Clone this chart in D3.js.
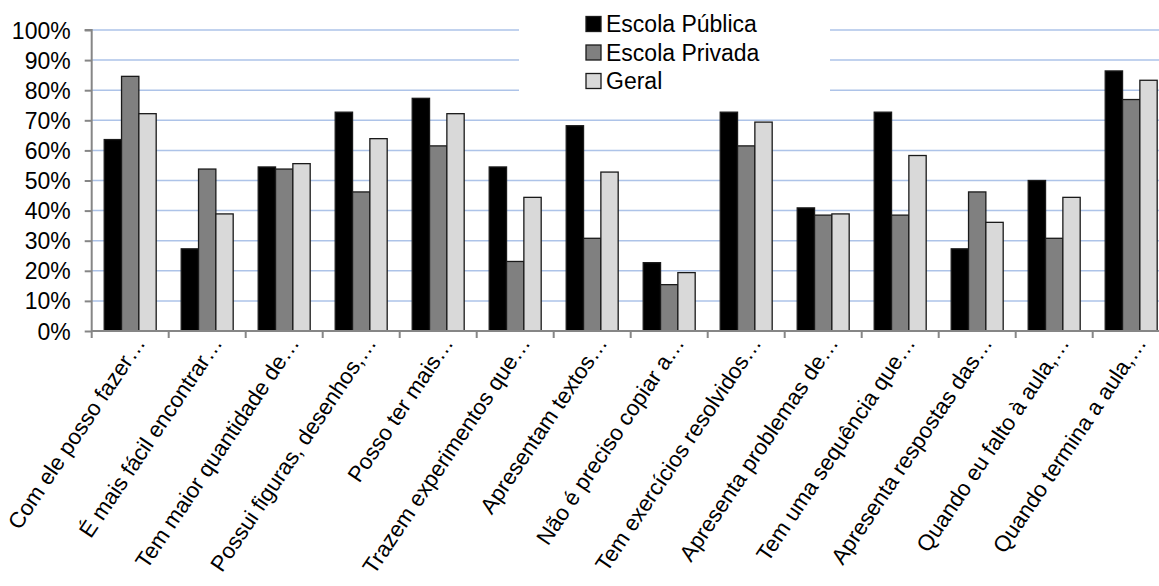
<!DOCTYPE html>
<html>
<head>
<meta charset="utf-8">
<script src="https://cdn.jsdelivr.net/npm/d3@7"></script>
<style>
  html, body { margin: 0; padding: 0; background: #fff; }
  svg { display: block; }
  text { font-family: "Liberation Sans", Arial, sans-serif; fill: #000; }
</style>
</head>
<body>
<svg id="chart" width="1159" height="586"></svg>
<script>
const categories = [
  "Com ele posso fazer…",
  "É mais fácil encontrar…",
  "Tem maior quantidade de…",
  "Possui figuras, desenhos,…",
  "Posso ter mais…",
  "Trazem experimentos que…",
  "Apresentam textos…",
  "Não é preciso copiar a…",
  "Tem exercícios resolvidos…",
  "Apresenta problemas de…",
  "Tem uma sequência que…",
  "Apresenta respostas das…",
  "Quando eu falto à aula,…",
  "Quando termina a aula,…"
];
const seriesNames = ["Escola Pública", "Escola Privada", "Geral"];
const publica = [63.6, 27.3, 54.5, 72.7, 77.3, 54.5, 68.2, 22.7, 72.7, 40.9, 72.7, 27.3, 50.0, 86.4];
const privada = [84.6, 53.8, 53.8, 46.2, 61.5, 23.1, 30.8, 15.4, 61.5, 38.5, 38.5, 46.2, 30.8, 76.9];
const geral   = [72.2, 38.9, 55.6, 63.9, 72.2, 44.4, 52.8, 19.4, 69.4, 38.9, 58.3, 36.1, 44.4, 83.3];
const yTicks = [0, 10, 20, 30, 40, 50, 60, 70, 80, 90, 100];
const colors = ["#000000", "#808080", "#d9d9d9"];

const seriesValues = [publica, privada, geral];
const rows = categories.map((c, i) => ({
  cat: c,
  vals: seriesNames.map((s, j) => ({ key: s, value: seriesValues[j][i], idx: j }))
}));

const svg = d3.select("#chart");
const plotLeft = 91.7, plotTop = 30, plotBottom = 331, step = 77;
const plotRight = plotLeft + step * categories.length;

const x = d3.scaleBand().domain(categories).range([plotLeft, plotRight])
  .paddingInner(0.325).paddingOuter(0.1625);
const xs = d3.scaleBand().domain(seriesNames).range([0, x.bandwidth()]);
const y = d3.scaleLinear().domain([0, 100]).range([plotBottom, plotTop]);

// gridlines
svg.append("g").selectAll("line").data(yTicks.filter(d => d > 0)).join("line")
  .attr("x1", plotLeft).attr("x2", 1159)
  .attr("y1", d => y(d)).attr("y2", d => y(d))
  .attr("stroke", "#adc3e8").attr("stroke-width", 1.5);

// legend background (covers gridlines)
svg.append("rect").attr("x", 519).attr("y", 0).attr("width", 311).attr("height", 96).attr("fill", "#fff");

// bars
const groups = svg.append("g").selectAll("g").data(rows).join("g")
  .attr("transform", d => `translate(${x(d.cat)},0)`);
groups.selectAll("rect").data(d => d.vals).join("rect")
  .attr("x", d => xs(d.key))
  .attr("width", xs.bandwidth())
  .attr("y", d => y(d.value))
  .attr("height", d => y(0) - y(d.value))
  .attr("fill", d => colors[d.idx])
  .attr("stroke", "#1a1a1a").attr("stroke-width", 1.3);

// y axis
const yAxis = d3.axisLeft(y).tickValues(yTicks).tickFormat(d => d + "%").tickSize(7).tickPadding(14);
const gy = svg.append("g").attr("transform", `translate(${plotLeft},0)`).call(yAxis);
gy.select(".domain").attr("stroke", "#868686").attr("stroke-width", 2).attr("d", `M-7,${plotTop}H0V${plotBottom + 7}`);
gy.selectAll(".tick line").attr("stroke", "#868686").attr("stroke-width", 2);
gy.selectAll(".tick text").attr("font-size", 23).attr("dy", "0.35em")
  .style("font-family", "'Liberation Sans', Arial, sans-serif");

// x axis baseline and boundary ticks
svg.append("line").attr("x1", plotLeft).attr("x2", 1159).attr("y1", plotBottom).attr("y2", plotBottom)
  .attr("stroke", "#868686").attr("stroke-width", 2);
const boundaries = categories.map(c => x(c) - x.step() * x.paddingInner() / 2).slice(1);
svg.append("g").selectAll("line").data(boundaries).join("line")
  .attr("x1", d => d).attr("x2", d => d).attr("y1", plotBottom).attr("y2", plotBottom + 7)
  .attr("stroke", "#868686").attr("stroke-width", 2);

// x labels
const xAxis = d3.axisBottom(x).tickSize(0);
const gx = svg.append("g").attr("transform", `translate(0,${plotBottom})`).call(xAxis);
gx.select(".domain").remove();
gx.selectAll(".tick text")
  .attr("x", 0).attr("y", 0).attr("dy", 0)
  .attr("text-anchor", "end")
  .attr("font-size", 22.3)
  .style("font-family", "'Liberation Sans', Arial, sans-serif")
  .attr("transform", "translate(16,12) rotate(-56)");

// legend
const lg = svg.append("g").selectAll("g").data(seriesNames).join("g")
  .attr("transform", (d, i) => `translate(586,${24 + i * 28.5})`);
lg.append("rect").attr("x", 0).attr("y", -7.5).attr("width", 15).attr("height", 15)
  .attr("fill", (d, i) => colors[i]).attr("stroke", "#1a1a1a").attr("stroke-width", 1.3);
lg.append("text").attr("x", 20).attr("y", 0).attr("dy", "0.35em")
  .attr("font-size", 23).text(d => d);
</script>
</body>
</html>
